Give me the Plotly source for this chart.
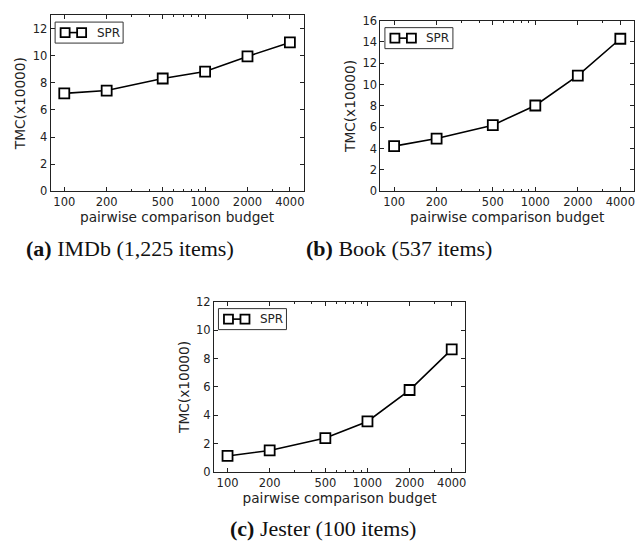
import plotly.graph_objects as go

# Pairwise comparison budgets (x) and total monetary cost in units of 10,000 (y)
budgets = [100, 200, 500, 1000, 2000, 4000]
tick_labels = ["100", "200", "500", "1000", "2000", "4000"]
spr_imdb = [7.22, 7.43, 8.32, 8.83, 9.95, 10.98]
spr_book = [4.23, 4.94, 6.19, 8.04, 10.85, 14.3]
spr_jester = [1.14, 1.53, 2.40, 3.57, 5.78, 8.64]

captions = ["<b>(a)</b> IMDb (1,225 items)",
            "<b>(b)</b> Book (537 items)",
            "<b>(c)</b> Jester (100 items)"]
y_max = [13, 16, 12]
y_dtick = 2

W, H = 644, 551
# plot-area boxes in pixels: (left, right, top, bottom)
boxes = [(50.7, 304.0, 8.3, 189.0),
         (381.0, 635.0, 14.0, 189.0),
         (214.3, 466.0, 302.3, 477.3)]
caption_pos = [(130, 248), (400, 248), (324, 535)]

series = [spr_imdb, spr_book, spr_jester]
minor_vals = [300, 400, 600, 700, 800, 900, 3000]

fig = go.Figure()
FONT = "DejaVu Sans"
AX = "#222222"

for i, (vals, box) in enumerate(zip(series, boxes)):
    n = "" if i == 0 else str(i + 1)
    xa, ya = "x" + n, "y" + n
    l, r, t, b = box
    fig.add_trace(go.Scatter(
        x=budgets, y=vals, mode="lines+markers", name="SPR",
        xaxis=xa, yaxis=ya, showlegend=False,
        line=dict(color="black", width=1.6),
        marker=dict(symbol="square", size=10, color="white",
                    line=dict(color="black", width=1.8)),
    ))
    common = dict(
        showgrid=False, zeroline=False, showline=True, linecolor=AX,
        linewidth=1, mirror="allticks", ticks="inside", tickcolor=AX,
        tickfont=dict(family=FONT, size=11.5, color=AX),
    )
    fig.layout["xaxis" + n] = dict(
        common, type="log", anchor=ya,
        domain=[l / W, r / W], range=[1.903, 3.699],
        tickvals=budgets, ticktext=tick_labels, ticklen=4,
        minor=dict(tickvals=minor_vals, ticks="inside", ticklen=2,
                   tickcolor=AX),
        title=dict(text="pairwise comparison budget", standoff=0,
                   font=dict(family=FONT, size=13.7, color=AX)),
    )
    fig.layout["yaxis" + n] = dict(
        common, anchor=xa,
        domain=[1 - b / H, 1 - t / H], range=[0, y_max[i]],
        dtick=y_dtick, tick0=0, ticklen=4,
        title=dict(text="TMC(x10000)", standoff=3,
                   font=dict(family=FONT, size=13.7, color=AX)),
    )

    # legend box: frame, two square markers joined by a line, label
    dx = "x" + n + " domain"
    dy = "y" + n + " domain"
    fig.add_shape(type="rect", xref=dx, yref=dy, xsizemode="pixel",
                  ysizemode="pixel", xanchor=0, yanchor=1,
                  x0=4.5, x1=72.5, y0=-7, y1=-28,
                  line=dict(color="#333333", width=1), fillcolor="white",
                  layer="above")
    fig.add_shape(type="line", xref=dx, yref=dy, xsizemode="pixel",
                  ysizemode="pixel", xanchor=0, yanchor=1,
                  x0=14.5, x1=31, y0=-17.5, y1=-17.5,
                  line=dict(color="black", width=1.6), layer="above")
    for cx in (14.5, 31):
        fig.add_shape(type="rect", xref=dx, yref=dy, xsizemode="pixel",
                      ysizemode="pixel", xanchor=0, yanchor=1,
                      x0=cx - 4.5, x1=cx + 4.5, y0=-13, y1=-22,
                      line=dict(color="black", width=1.8),
                      fillcolor="white", layer="above")
    fig.add_annotation(xref=dx, yref=dy, x=0, y=1, xshift=44, yshift=-17.5,
                       xanchor="left", yanchor="middle", showarrow=False,
                       text="SPR", font=dict(family=FONT, size=12, color=AX))

    cx, cy = caption_pos[i]
    fig.add_annotation(xref="paper", yref="paper", x=cx / W, y=1 - cy / H,
                       xanchor="center", yanchor="middle", showarrow=False,
                       text=captions[i],
                       font=dict(family="Liberation Serif", size=22,
                                 color="#111111"))

fig.update_layout(
    width=W, height=H, margin=dict(l=0, r=0, t=0, b=0),
    paper_bgcolor="white", plot_bgcolor="white", showlegend=False,
)

fig.write_html("out.html")
